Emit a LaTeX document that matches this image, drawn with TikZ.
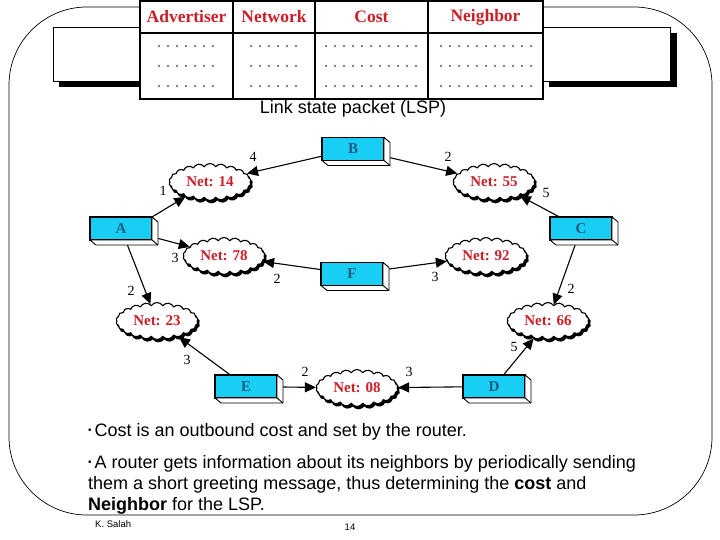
\documentclass[tikz,border=0pt]{standalone}
\usepackage{fontspec}
\setmainfont{Liberation Serif}
\newfontfamily\arialfont{Liberation Sans}
\usetikzlibrary{arrows.meta,shapes.symbols,shadows,calc}
\definecolor{netred}{RGB}{204,32,40}
\definecolor{boxcyan}{RGB}{24,206,242}
\definecolor{boxtext}{RGB}{30,90,130}
\newcommand\bulletdot{\raisebox{0.25ex}{\scalebox{0.55}{•}}\,}
\tikzset{
 router/.style={draw=black, line width=1.2pt, fill=boxcyan, minimum width=62pt, minimum height=23pt, inner sep=0pt, outer sep=0pt, font=\fontsize{15}{15}\selectfont\bfseries, text=boxtext},
 face/.style={draw=black, line width=0.9pt, fill=white, line join=round},
 net/.style={cloud, cloud puffs=22, cloud puff arc=115, aspect=2.3, draw=black, line width=1.1pt, fill=white, minimum width=82pt, minimum height=37pt, inner sep=0pt, font=\fontsize{15}{15}\selectfont\bfseries, text=netred, copy shadow={shadow xshift=1.5pt, shadow yshift=-2.3pt, fill=black, draw=black}},
 link/.style={line width=1.1pt, -{Triangle[length=11pt,width=10pt]}},
 cost/.style={font=\fontsize{14}{14}\selectfont, inner sep=0pt},
 hdr/.style={font=\fontsize{17.5}{17.5}\selectfont\bfseries, text=netred, inner sep=0pt},
 body/.style={anchor=base west, inner sep=0pt, font=\arialfont\fontsize{18}{21}\selectfont},
 shadowbox/.style={fill=black},
 whitebox/.style={draw=black, line width=0.9pt, fill=white},
}
\begin{document}
\begin{tikzpicture}[x=1pt, y=-1pt]
\useasboundingbox (0,0) rectangle (720,540);
% frame
\draw[line width=0.7pt, rounded corners=78pt] (9,7) rectangle (712,515);
% header side boxes
\fill[shadowbox] (59,33) rectangle (146,87);
\draw[whitebox] (53,27) rectangle (140,81);
\fill[shadowbox] (549,33) rectangle (677,87);
\draw[whitebox] (543,27) rectangle (670,81);
% table
\fill[white] (140,1) rectangle (543,99);
\draw[line width=2.2pt] (140,1) rectangle (543,99);
\draw[line width=1.8pt] (140,33) -- (543,33);
\foreach \x in {233,315,428} \draw[line width=1.8pt] (\x,1) -- (\x,99);
\node[hdr] (h1) at (186.5,17) {Advertiser};
\node[hdr] (h2) at (274,17) {Network};
\node[hdr] (h3) at (371.5,17) {Cost};
\node[hdr] (h4) at (485.5,17) {Neighbor};
\foreach \y in {46,66,86}{
  \foreach \i in {0,...,6} \fill (159+9*\i,\y) circle (0.8);
  \foreach \i in {0,...,5} \fill (251+9*\i,\y) circle (0.8);
  \foreach \i in {0,...,10} \fill (326+9*\i,\y) circle (0.8);
  \foreach \i in {0,...,10} \fill (441+9*\i,\y) circle (0.8);
}
\node[font=\arialfont\fontsize{18}{18}\selectfont, inner sep=0pt] (lsp) at (353,109) {Link state packet (LSP)};
% routers
\node[router] (A) at (121,228.5) {A};
\node[router] (B) at (353,149) {B};
\node[router] (C) at (581,228.5) {C};
\node[router] (F) at (352,274) {F};
\node[router] (E) at (246,386.5) {E};
\node[router] (D) at (494,386.5) {D};
% networks
\node[net] (n14) at (210,182) {Net: 14};
\node[net] (n55) at (494,182) {Net: 55};
\node[net] (n78) at (224,256) {Net: 78};
\node[net] (n92) at (486,256) {Net: 92};
\node[net] (n23) at (157,321) {Net: 23};
\node[net] (n66) at (548,321) {Net: 66};
\node[net] (n08) at (357,388) {Net: 08};
% links
\draw[link] (A.north east) -- (n14);
\draw[link] (B) -- (n14);
\draw[link] (B) -- (n55);
\draw[link] (C) -- (n55);
\draw[link] (A) -- (n78);
\draw[link] (F) -- (n78);
\draw[link] (F) -- (n92);
\draw[link] (A) -- (n23);
\draw[link] (C) -- (n66);
\draw[link] (E) -- (n23);
\draw[link] (E) -- (n08);
\draw[link] (D) -- (n08);
\draw[link] (D) -- (n66);
% 3D faces
\foreach \n in {A,B,C,D,E,F}{
  \draw[face] (\n.north east) -- ++(6,5) -- ($(\n.south east)+(6,5)$) -- ($(\n.south west)+(6,5)$) -- (\n.south west) -- (\n.south east) -- cycle;
  \draw[face] (\n.south east) -- ++(6,5);
}
% cost labels
\node[cost] (l1) at (163,191) {1};
\node[cost] (l2) at (253,157) {4};
\node[cost] (l3) at (448,157) {2};
\node[cost] (l4) at (546,193) {5};
\node[cost] (l5) at (175,258) {3};
\node[cost] (l6) at (277,279) {2};
\node[cost] (l7) at (435,277) {3};
\node[cost] (l8) at (131,291) {2};
\node[cost] (l9) at (571,289) {2};
\node[cost] (l10) at (187,360) {3};
\node[cost] (l11) at (305,372) {2};
\node[cost] (l12) at (409,372) {3};
\node[cost] (l13) at (514,347) {5};
% text
\node[body] (t1) at (88,436) {\bulletdot Cost is an outbound cost and set by the router.};
\node[body] (t2) at (88,468) {\bulletdot A router gets information about its neighbors by periodically sending};
\node[body] (t3) at (88,489) {them a short greeting message, thus determining the \textbf{cost} and};
\node[body] (t4) at (88,510) {\textbf{Neighbor} for the LSP.};
\node[anchor=base west, inner sep=0pt, font=\arialfont\fontsize{9.5}{10}\selectfont] (k) at (95,527) {K. Salah};
\node[anchor=base, inner sep=0pt, font=\arialfont\fontsize{9.5}{10}\selectfont] (pg) at (350,530) {14};
\end{tikzpicture}
\end{document}
